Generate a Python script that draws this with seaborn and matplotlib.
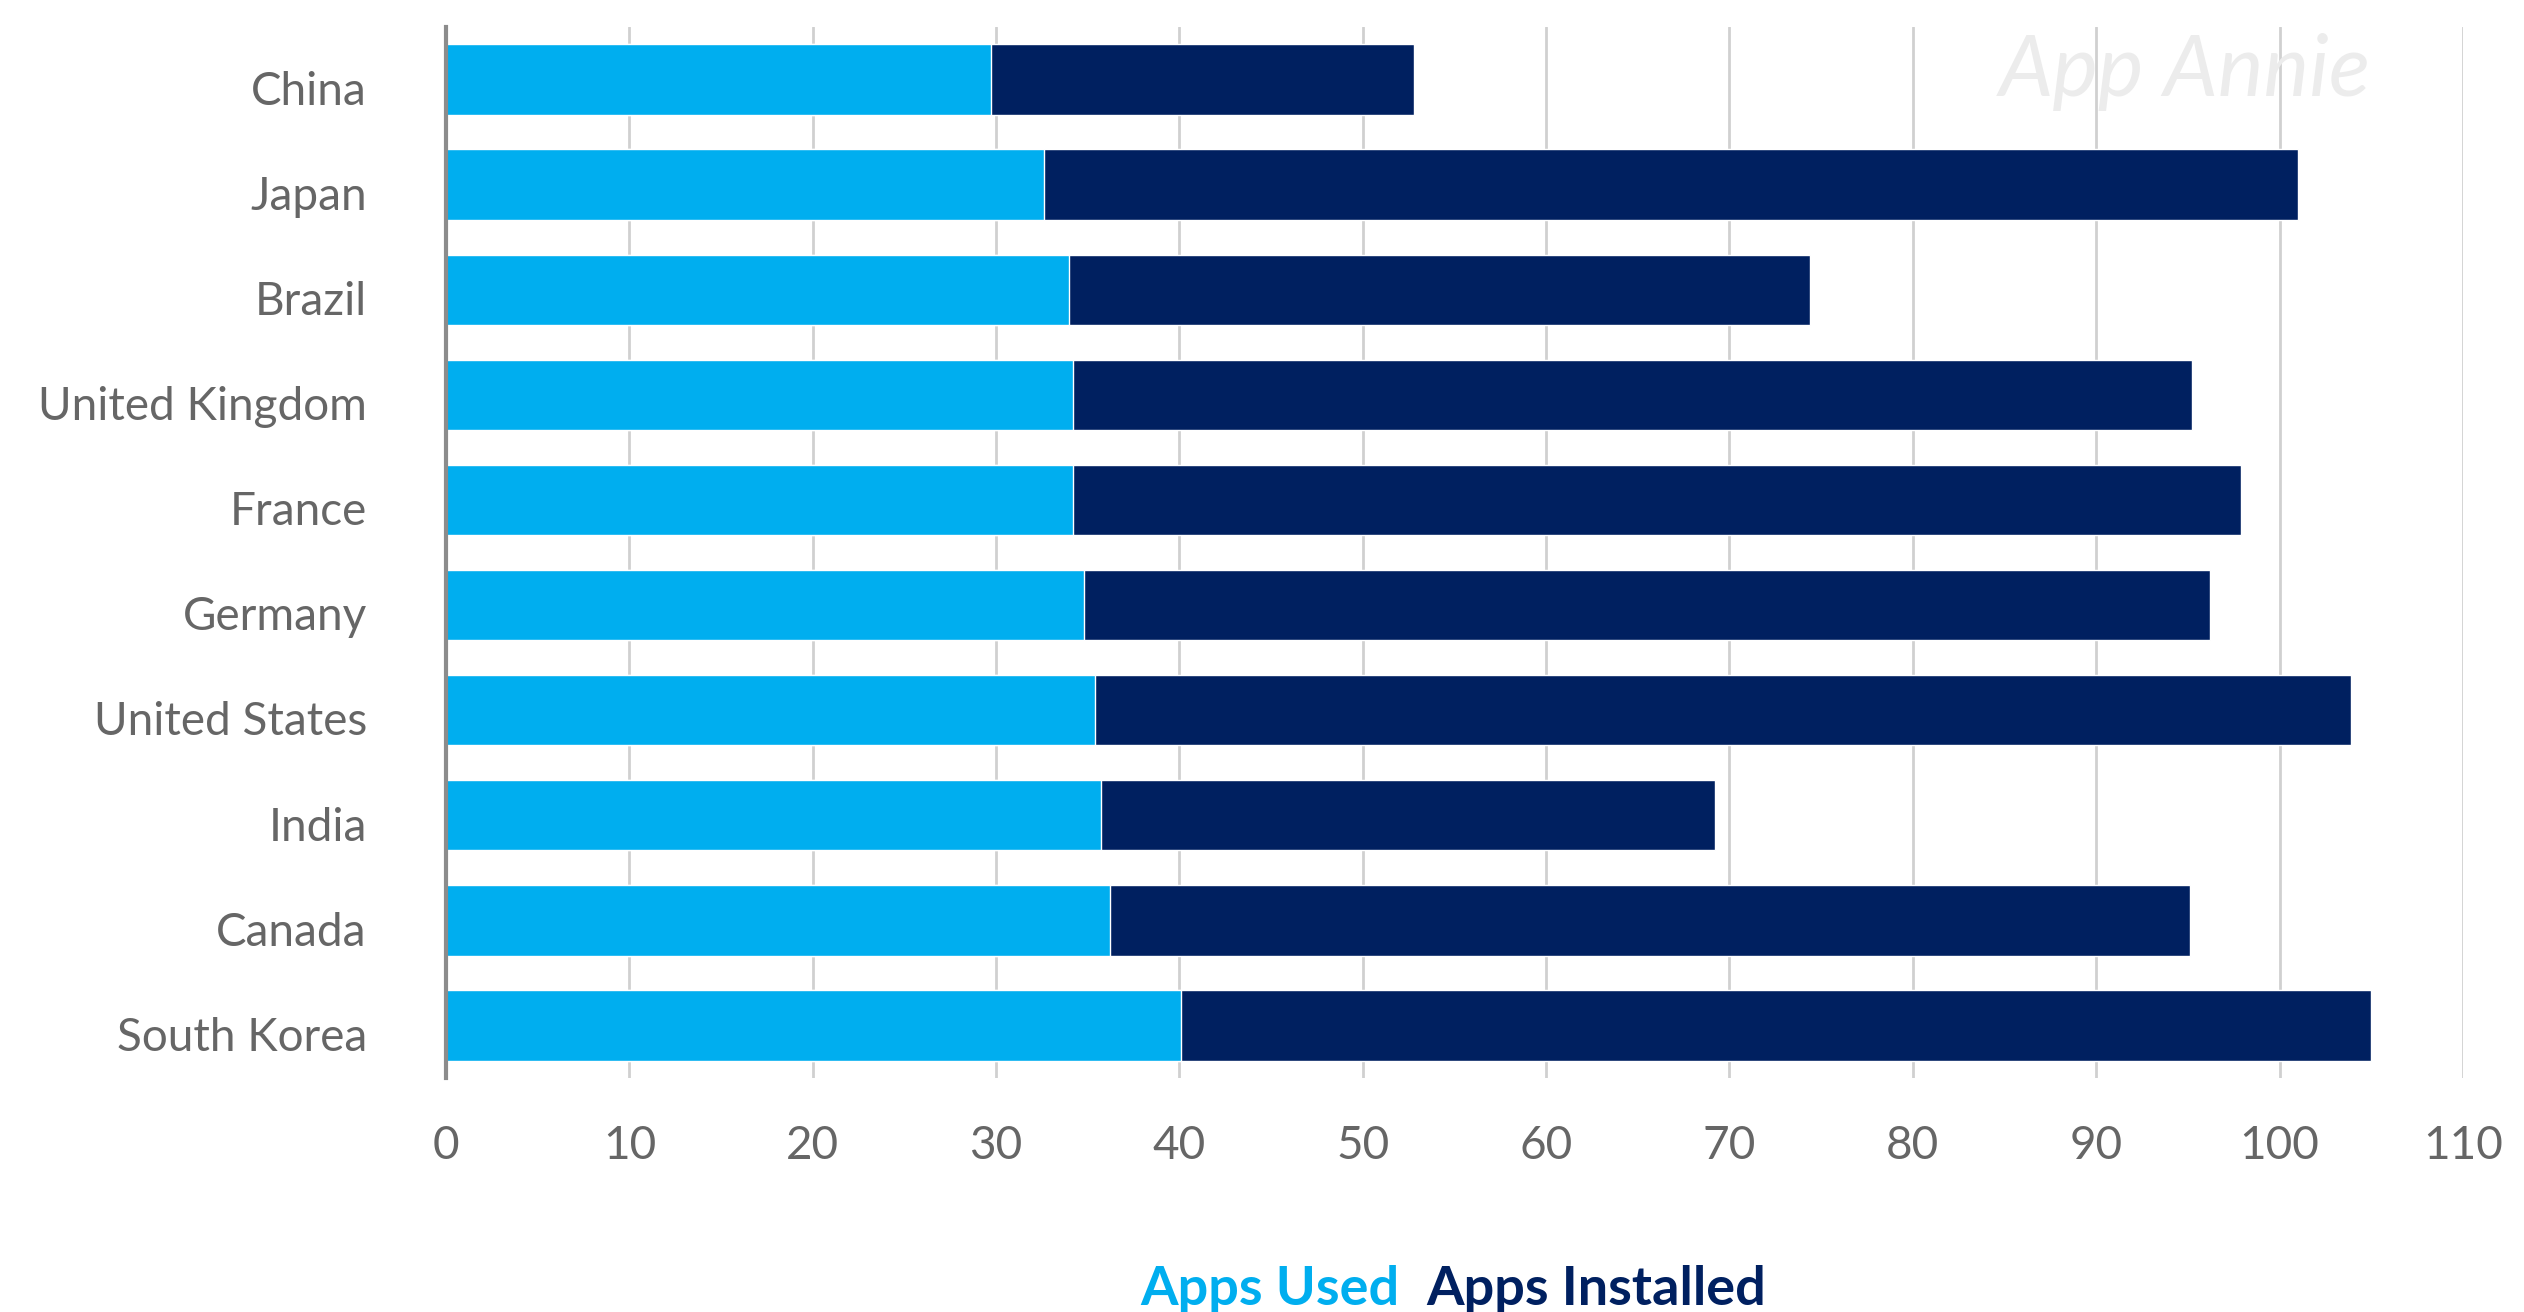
import matplotlib
matplotlib.use("Agg")
import matplotlib.pyplot as plt
import matplotlib.transforms as mtransforms
import seaborn as sns
import pandas as pd

# Average number of apps per smartphone user, by country
countries = ["China", "Japan", "Brazil", "United Kingdom", "France",
             "Germany", "United States", "India", "Canada", "South Korea"]
apps_used = [29.7, 32.6, 34.0, 34.2, 34.2, 34.8, 35.4, 35.7, 36.2, 40.1]
apps_installed = [52.8, 101.0, 74.4, 95.2, 97.9, 96.2, 103.9, 69.2, 95.1, 105.0]
x_ticks = [0, 10, 20, 30, 40, 50, 60, 70, 80, 90, 100, 110]

LIGHT = "#00AEEF"
NAVY = "#002060"
TEXT_GREY = "#666666"

sns.set_theme(style="white")
plt.rcParams["font.family"] = ["Lato", "DejaVu Sans"]

df = pd.DataFrame({"country": countries, "used": apps_used,
                   "installed": apps_installed})

fig = plt.figure(figsize=(25.24, 13.12), dpi=100)
ax = fig.add_axes([0.1767, 0.1784, 0.7991, 0.801])

# Installed apps drawn as the full bar, used apps laid over it from zero
sns.barplot(data=df, x="installed", y="country", orient="h", color=NAVY,
            width=0.67, saturation=1, ax=ax, zorder=3)
sns.barplot(data=df, x="used", y="country", orient="h", color=LIGHT,
            width=0.67, saturation=1, ax=ax, zorder=4)

ax.set_xlim(0, 110)
ax.set_ylim(9.5, -0.5)
ax.set_xticks(x_ticks)
ax.set_xticklabels([str(t) for t in x_ticks])
ax.set_xlabel("")
ax.set_ylabel("")

ax.grid(axis="x", color="#d0d0d0", linewidth=2, zorder=0)
ax.grid(axis="y", visible=False)
for side in ["top", "right", "bottom"]:
    ax.spines[side].set_visible(False)
ax.spines["left"].set_color("#8c8c8c")
ax.spines["left"].set_linewidth(3)
ax.spines["left"].set_zorder(5)

ax.tick_params(axis="y", length=0, pad=57, labelsize=33, labelcolor=TEXT_GREY)
ax.tick_params(axis="x", length=0, pad=34, labelsize=33, labelcolor=TEXT_GREY)

# Nudge the country names slightly below the bar centres
shift = mtransforms.ScaledTranslation(0, -6 / 72, fig.dpi_scale_trans)
for lbl in ax.get_yticklabels():
    lbl.set_transform(lbl.get_transform() + shift)

# Watermark
ax.text(0.862, 0.957, "App Annie", transform=ax.transAxes, ha="center",
        va="center", fontsize=62, style="italic", color="#ececec", zorder=1)

# Legend as coloured words
fig.text(0.4517, 0.017, "Apps Used", color=LIGHT, fontsize=39,
         fontweight="bold", ha="left", va="center")
fig.text(0.5650, 0.017, "Apps Installed", color=NAVY, fontsize=39,
         fontweight="bold", ha="left", va="center")

fig.savefig("out.png", dpi=100, facecolor="white")
